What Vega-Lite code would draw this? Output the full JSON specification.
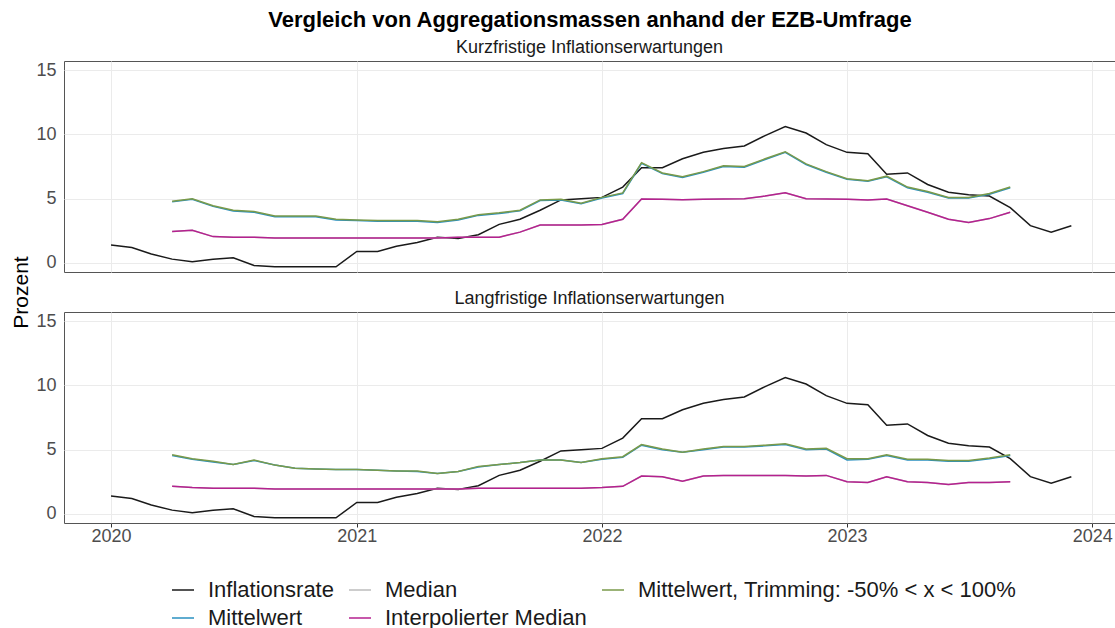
{
"$schema": "https://vega.github.io/schema/vega-lite/v6.json",
"padding": {"left": 10, "top": 8, "right": 0, "bottom": 0},
"bounds": "flush",
"title": {"text": "Vergleich von Aggregationsmassen anhand der EZB-Umfrage", "anchor": "middle", "fontSize": 22, "fontWeight": "bold", "font": "Liberation Sans", "color": "#000000", "offset": 7, "dx": 27},
"datasets": {"names": [
 {"k": "I", "name": "Inflationsrate"},
 {"k": "M", "name": "Mittelwert"},
 {"k": "Md", "name": "Median"},
 {"k": "IM", "name": "Interpolierter Median"},
 {"k": "T", "name": "Mittelwert, Trimming: -50% < x < 100%"}
]},
"data": {"values": [
{"p":"K","d":"2020-01","I":1.4},
{"p":"K","d":"2020-02","I":1.2},
{"p":"K","d":"2020-03","I":0.7},
{"p":"K","d":"2020-04","I":0.3,"M":4.75,"Md":2.45,"IM":2.45,"T":4.8},
{"p":"K","d":"2020-05","I":0.1,"M":4.95,"Md":2.55,"IM":2.55,"T":5.0},
{"p":"K","d":"2020-06","I":0.3,"M":4.4,"Md":2.05,"IM":2.05,"T":4.45},
{"p":"K","d":"2020-07","I":0.4,"M":4.05,"Md":2.0,"IM":2.0,"T":4.1},
{"p":"K","d":"2020-08","I":-0.2,"M":3.95,"Md":2.0,"IM":2.0,"T":4.0},
{"p":"K","d":"2020-09","I":-0.3,"M":3.6,"Md":1.95,"IM":1.95,"T":3.65},
{"p":"K","d":"2020-10","I":-0.3,"M":3.6,"Md":1.95,"IM":1.95,"T":3.65},
{"p":"K","d":"2020-11","I":-0.3,"M":3.6,"Md":1.95,"IM":1.95,"T":3.65},
{"p":"K","d":"2020-12","I":-0.3,"M":3.35,"Md":1.95,"IM":1.95,"T":3.4},
{"p":"K","d":"2021-01","I":0.9,"M":3.3,"Md":1.95,"IM":1.95,"T":3.35},
{"p":"K","d":"2021-02","I":0.9,"M":3.25,"Md":1.95,"IM":1.95,"T":3.3},
{"p":"K","d":"2021-03","I":1.3,"M":3.25,"Md":1.95,"IM":1.95,"T":3.3},
{"p":"K","d":"2021-04","I":1.6,"M":3.25,"Md":1.95,"IM":1.95,"T":3.3},
{"p":"K","d":"2021-05","I":2.0,"M":3.15,"Md":1.95,"IM":1.95,"T":3.2},
{"p":"K","d":"2021-06","I":1.9,"M":3.35,"Md":2.0,"IM":2.0,"T":3.4},
{"p":"K","d":"2021-07","I":2.2,"M":3.7,"Md":2.0,"IM":2.0,"T":3.75},
{"p":"K","d":"2021-08","I":3.0,"M":3.85,"Md":2.0,"IM":2.0,"T":3.9},
{"p":"K","d":"2021-09","I":3.4,"M":4.05,"Md":2.4,"IM":2.4,"T":4.1},
{"p":"K","d":"2021-10","I":4.1,"M":4.85,"Md":2.95,"IM":2.95,"T":4.9},
{"p":"K","d":"2021-11","I":4.9,"M":4.9,"Md":2.95,"IM":2.95,"T":4.95},
{"p":"K","d":"2021-12","I":5.0,"M":4.6,"Md":2.95,"IM":2.95,"T":4.65},
{"p":"K","d":"2022-01","I":5.1,"M":5.05,"Md":3.0,"IM":3.0,"T":5.1},
{"p":"K","d":"2022-02","I":5.9,"M":5.4,"Md":3.4,"IM":3.4,"T":5.45},
{"p":"K","d":"2022-03","I":7.4,"M":7.75,"Md":4.97,"IM":4.97,"T":7.8},
{"p":"K","d":"2022-04","I":7.4,"M":6.95,"Md":4.95,"IM":4.95,"T":7.0},
{"p":"K","d":"2022-05","I":8.1,"M":6.65,"Md":4.92,"IM":4.92,"T":6.7},
{"p":"K","d":"2022-06","I":8.6,"M":7.05,"Md":4.95,"IM":4.95,"T":7.1},
{"p":"K","d":"2022-07","I":8.9,"M":7.5,"Md":4.97,"IM":4.97,"T":7.55},
{"p":"K","d":"2022-08","I":9.1,"M":7.45,"Md":5.0,"IM":5.0,"T":7.5},
{"p":"K","d":"2022-09","I":9.9,"M":8.05,"Md":5.2,"IM":5.2,"T":8.1},
{"p":"K","d":"2022-10","I":10.6,"M":8.6,"Md":5.45,"IM":5.45,"T":8.65},
{"p":"K","d":"2022-11","I":10.1,"M":7.65,"Md":5.0,"IM":5.0,"T":7.7},
{"p":"K","d":"2022-12","I":9.2,"M":7.05,"Md":4.97,"IM":4.97,"T":7.1},
{"p":"K","d":"2023-01","I":8.6,"M":6.5,"Md":4.95,"IM":4.95,"T":6.55},
{"p":"K","d":"2023-02","I":8.5,"M":6.35,"Md":4.9,"IM":4.9,"T":6.4},
{"p":"K","d":"2023-03","I":6.9,"M":6.7,"Md":4.97,"IM":4.97,"T":6.75},
{"p":"K","d":"2023-04","I":7.0,"M":5.85,"Md":4.45,"IM":4.45,"T":5.9},
{"p":"K","d":"2023-05","I":6.1,"M":5.5,"Md":3.95,"IM":3.95,"T":5.55},
{"p":"K","d":"2023-06","I":5.5,"M":5.05,"Md":3.4,"IM":3.4,"T":5.1},
{"p":"K","d":"2023-07","I":5.3,"M":5.05,"Md":3.15,"IM":3.15,"T":5.1},
{"p":"K","d":"2023-08","I":5.2,"M":5.35,"Md":3.45,"IM":3.45,"T":5.4},
{"p":"K","d":"2023-09","I":4.3,"M":5.85,"Md":3.95,"IM":3.95,"T":5.9},
{"p":"K","d":"2023-10","I":2.9},
{"p":"K","d":"2023-11","I":2.4},
{"p":"K","d":"2023-12","I":2.9},
{"p":"L","d":"2020-01","I":1.4},
{"p":"L","d":"2020-02","I":1.2},
{"p":"L","d":"2020-03","I":0.7},
{"p":"L","d":"2020-04","I":0.3,"M":4.55,"Md":2.15,"IM":2.15,"T":4.6},
{"p":"L","d":"2020-05","I":0.1,"M":4.25,"Md":2.05,"IM":2.05,"T":4.3},
{"p":"L","d":"2020-06","I":0.3,"M":4.05,"Md":2.0,"IM":2.0,"T":4.1},
{"p":"L","d":"2020-07","I":0.4,"M":3.85,"Md":2.0,"IM":2.0,"T":3.85},
{"p":"L","d":"2020-08","I":-0.2,"M":4.15,"Md":2.0,"IM":2.0,"T":4.2},
{"p":"L","d":"2020-09","I":-0.3,"M":3.8,"Md":1.95,"IM":1.95,"T":3.8},
{"p":"L","d":"2020-10","I":-0.3,"M":3.55,"Md":1.95,"IM":1.95,"T":3.55},
{"p":"L","d":"2020-11","I":-0.3,"M":3.5,"Md":1.95,"IM":1.95,"T":3.5},
{"p":"L","d":"2020-12","I":-0.3,"M":3.45,"Md":1.95,"IM":1.95,"T":3.45},
{"p":"L","d":"2021-01","I":0.9,"M":3.45,"Md":1.95,"IM":1.95,"T":3.45},
{"p":"L","d":"2021-02","I":0.9,"M":3.4,"Md":1.95,"IM":1.95,"T":3.4},
{"p":"L","d":"2021-03","I":1.3,"M":3.35,"Md":1.95,"IM":1.95,"T":3.35},
{"p":"L","d":"2021-04","I":1.6,"M":3.3,"Md":1.95,"IM":1.95,"T":3.35},
{"p":"L","d":"2021-05","I":2.0,"M":3.15,"Md":1.95,"IM":1.95,"T":3.15},
{"p":"L","d":"2021-06","I":1.9,"M":3.3,"Md":1.95,"IM":1.95,"T":3.3},
{"p":"L","d":"2021-07","I":2.2,"M":3.65,"Md":2.0,"IM":2.0,"T":3.7},
{"p":"L","d":"2021-08","I":3.0,"M":3.85,"Md":2.0,"IM":2.0,"T":3.85},
{"p":"L","d":"2021-09","I":3.4,"M":4.0,"Md":2.0,"IM":2.0,"T":4.0},
{"p":"L","d":"2021-10","I":4.1,"M":4.2,"Md":2.0,"IM":2.0,"T":4.2},
{"p":"L","d":"2021-11","I":4.9,"M":4.2,"Md":2.0,"IM":2.0,"T":4.2},
{"p":"L","d":"2021-12","I":5.0,"M":4.0,"Md":2.0,"IM":2.0,"T":4.0},
{"p":"L","d":"2022-01","I":5.1,"M":4.25,"Md":2.05,"IM":2.05,"T":4.3},
{"p":"L","d":"2022-02","I":5.9,"M":4.4,"Md":2.15,"IM":2.15,"T":4.45},
{"p":"L","d":"2022-03","I":7.4,"M":5.35,"Md":2.95,"IM":2.95,"T":5.4},
{"p":"L","d":"2022-04","I":7.4,"M":5.0,"Md":2.9,"IM":2.9,"T":5.05},
{"p":"L","d":"2022-05","I":8.1,"M":4.8,"Md":2.55,"IM":2.55,"T":4.8},
{"p":"L","d":"2022-06","I":8.6,"M":5.0,"Md":2.95,"IM":2.95,"T":5.05},
{"p":"L","d":"2022-07","I":8.9,"M":5.2,"Md":3.0,"IM":3.0,"T":5.25},
{"p":"L","d":"2022-08","I":9.1,"M":5.2,"Md":3.0,"IM":3.0,"T":5.25},
{"p":"L","d":"2022-09","I":9.9,"M":5.3,"Md":3.0,"IM":3.0,"T":5.35},
{"p":"L","d":"2022-10","I":10.6,"M":5.4,"Md":3.0,"IM":3.0,"T":5.45},
{"p":"L","d":"2022-11","I":10.1,"M":5.0,"Md":2.95,"IM":2.95,"T":5.05},
{"p":"L","d":"2022-12","I":9.2,"M":5.05,"Md":3.0,"IM":3.0,"T":5.1},
{"p":"L","d":"2023-01","I":8.6,"M":4.2,"Md":2.5,"IM":2.5,"T":4.3},
{"p":"L","d":"2023-02","I":8.5,"M":4.25,"Md":2.45,"IM":2.45,"T":4.3},
{"p":"L","d":"2023-03","I":6.9,"M":4.55,"Md":2.9,"IM":2.9,"T":4.6},
{"p":"L","d":"2023-04","I":7.0,"M":4.2,"Md":2.5,"IM":2.5,"T":4.25},
{"p":"L","d":"2023-05","I":6.1,"M":4.2,"Md":2.45,"IM":2.45,"T":4.25},
{"p":"L","d":"2023-06","I":5.5,"M":4.1,"Md":2.3,"IM":2.3,"T":4.15},
{"p":"L","d":"2023-07","I":5.3,"M":4.1,"Md":2.45,"IM":2.45,"T":4.15},
{"p":"L","d":"2023-08","I":5.2,"M":4.3,"Md":2.45,"IM":2.45,"T":4.35},
{"p":"L","d":"2023-09","I":4.3,"M":4.55,"Md":2.5,"IM":2.5,"T":4.6},
{"p":"L","d":"2023-10","I":2.9},
{"p":"L","d":"2023-11","I":2.4},
{"p":"L","d":"2023-12","I":2.9}
]},
"transform": [
 {"fold": ["I", "M", "Md", "IM", "T"], "as": ["k", "v"]},
 {"filter": {"field": "v", "valid": true}},
 {"lookup": "k", "from": {"data": {"name": "names"}, "key": "k", "fields": ["name"]}}
],
"spacing": 40,
"vconcat": [
 {
  "title": {"text": "Kurzfristige Inflationserwartungen"},
  "width": 1051,
  "height": 211,
  "transform": [{"filter": {"field": "p", "equal": "K"}}],
  "mark": {"type": "line", "strokeWidth": 1.5},
  "encoding": {
   "x": {"field": "d", "type": "temporal",
    "scale": {"type": "utc", "domain": [{"year": 2019, "month": 10, "date": 23, "utc": true}, {"year": 2024, "month": 2, "date": 4, "utc": true}]},
    "axis": {"title": null, "labels": false, "ticks": false, "values": [{"year": 2020, "month": 1, "date": 1, "utc": true}, {"year": 2021, "month": 1, "date": 1, "utc": true}, {"year": 2022, "month": 1, "date": 1, "utc": true}, {"year": 2023, "month": 1, "date": 1, "utc": true}, {"year": 2024, "month": 1, "date": 1, "utc": true}]}},
   "y": {"field": "v", "type": "quantitative",
    "scale": {"domain": [-0.7, 15.7], "nice": false, "zero": false},
    "axis": {"title": "Prozent", "titleY": 231, "values": [0, 5, 10, 15], "labelPadding": 8, "titlePadding": 4}},
   "color": {"field": "name", "type": "nominal",
    "scale": {"domain": ["Inflationsrate", "Median", "Mittelwert, Trimming: -50% < x < 100%", "Mittelwert", "Interpolierter Median"],
              "range": ["#1a1a1a", "#bdbdbd", "#7a9a4a", "#2a90c0", "#b5218f"]},
    "legend": {"title": null, "orient": "none", "legendX": 107, "legendY": 517, "direction": "horizontal", "columns": 3,
      "symbolType": "stroke", "symbolSize": 484, "symbolStrokeWidth": 1.5, "labelFontSize": 22, "labelFont": "Liberation Sans", "labelColor": "#1a1a1a", "labelOffset": 13, "columnPadding": 12, "rowPadding": 5, "labelLimit": 600}}
  }
 },
 {
  "title": {"text": "Langfristige Inflationserwartungen"},
  "width": 1051,
  "height": 211,
  "transform": [{"filter": {"field": "p", "equal": "L"}}],
  "mark": {"type": "line", "strokeWidth": 1.5},
  "encoding": {
   "x": {"field": "d", "type": "temporal",
    "scale": {"type": "utc", "domain": [{"year": 2019, "month": 10, "date": 23, "utc": true}, {"year": 2024, "month": 2, "date": 4, "utc": true}]},
    "axis": {"title": null, "format": "%Y", "values": [{"year": 2020, "month": 1, "date": 1, "utc": true}, {"year": 2021, "month": 1, "date": 1, "utc": true}, {"year": 2022, "month": 1, "date": 1, "utc": true}, {"year": 2023, "month": 1, "date": 1, "utc": true}, {"year": 2024, "month": 1, "date": 1, "utc": true}], "ticks": true, "tickSize": 4, "tickColor": "#333333", "labelPadding": 0}},
   "y": {"field": "v", "type": "quantitative",
    "scale": {"domain": [-0.7, 15.7], "nice": false, "zero": false},
    "axis": {"title": null, "values": [0, 5, 10, 15], "labelPadding": 8}},
   "color": {"field": "name", "type": "nominal"}
  }
 }
],
"config": {
 "view": {"stroke": "#555555", "strokeWidth": 1},
 "title": {"fontSize": 18, "fontWeight": "normal", "font": "Liberation Sans", "color": "#1a1a1a", "anchor": "middle", "offset": 4},
 "axis": {"labelFont": "Liberation Sans", "labelFontSize": 18, "labelColor": "#4d4d4d", "titleFont": "Liberation Sans", "titleFontSize": 21, "titleFontWeight": "normal", "titleColor": "#000000", "gridColor": "#ebebeb", "gridWidth": 1, "domain": false, "ticks": false}
}
}
